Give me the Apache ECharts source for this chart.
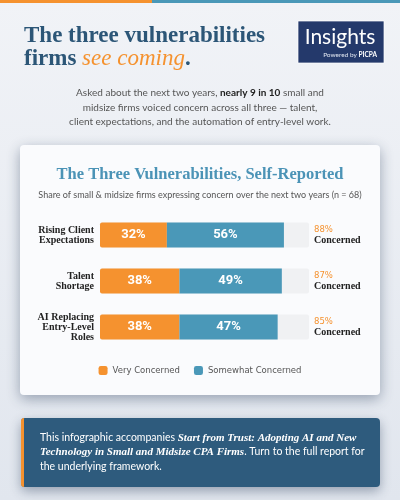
<!DOCTYPE html>
<html>
<head>
<meta charset="utf-8">
<script src="https://cdn.jsdelivr.net/npm/echarts@6/dist/echarts.min.js"></script>
<style>
  html, body { margin: 0; padding: 0; }
  #chart { width: 400px; height: 500px; }
</style>
</head>
<body>
<div id="chart"></div>
<script>
// data
const categories = ['Rising Client\nExpectations', 'Talent\nShortage', 'AI Replacing\nEntry-Level\nRoles']
const veryConcerned = [32, 38, 38]
const somewhatConcerned = [56, 49, 47]
const seriesNames = ['Very Concerned', 'Somewhat Concerned']
const totals = veryConcerned.map((v, i) => v + somewhatConcerned[i])

const ORANGE = '#f5922f'
const BLUE = '#4a98b8'
const NAVY = '#2c5677'
const SERIF = '"Liberation Serif", serif'
const SANS = 'Lato, sans-serif'
const BARFONT = 'Roboto, sans-serif'

const chart = echarts.init(document.getElementById('chart'))

const graphic = [
  // page background
  { type: 'rect', z: -10, shape: { x: 0, y: 0, width: 400, height: 500 },
    style: { fill: new echarts.graphic.LinearGradient(0, 0, 0, 1, [
      { offset: 0, color: '#f1f3f7' }, { offset: 1, color: '#e1e6ee' }]) } },
  // top strip
  { type: 'rect', shape: { x: 0, y: 0, width: 152, height: 3 }, style: { fill: ORANGE } },
  { type: 'rect', shape: { x: 152, y: 0, width: 248, height: 3 }, style: { fill: BLUE } },
  // headline
  { type: 'text', x: 24, y: 36, style: {
    text: 'The three vulnerabilities', font: `bold 23px ${SERIF}`, fill: NAVY, verticalAlign: 'middle' } },
  { type: 'text', x: 24, y: 59, style: {
    text: '{a|firms }{b|see coming}{a|.}', verticalAlign: 'middle',
    rich: {
      a: { font: `bold 23px ${SERIF}`, fill: NAVY },
      b: { font: `italic 23px ${SERIF}`, fill: ORANGE },
    } } },
  // Insights badge
  { type: 'rect', shape: { x: 298, y: 21, width: 86, height: 42 },
    style: { fill: '#24396b', stroke: 'rgba(255,255,255,0.7)', lineWidth: 1 } },
  { type: 'text', x: 340, y: 37, style: {
    text: 'Insights', font: `21px ${SANS}`, fill: '#fff', align: 'center', verticalAlign: 'middle' } },
  { type: 'text', x: 377, y: 55, style: {
    text: 'Powered by {b|PICPA}', font: `6.5px ${SANS}`, fill: '#dfe5f0', align: 'right', verticalAlign: 'middle',
    rich: { b: { font: `bold 6.5px ${SANS}`, fill: '#fff' } } } },
  // intro paragraph
  { type: 'text', x: 200, y: 93, style: {
    text: 'Asked about the next two years, {b|nearly 9 in 10} small and', font: `10px ${SANS}`, fill: '#555',
    align: 'center', verticalAlign: 'middle', rich: { b: { font: `bold 10px ${SANS}`, fill: '#222' } } } },
  { type: 'text', x: 200, y: 108, style: {
    text: 'midsize firms voiced concern across all three — talent,', font: `10px ${SANS}`, fill: '#555',
    align: 'center', verticalAlign: 'middle' } },
  { type: 'text', x: 200, y: 122, style: {
    text: 'client expectations, and the automation of entry-level work.', font: `10px ${SANS}`, fill: '#555',
    align: 'center', verticalAlign: 'middle' } },
  // card
  { type: 'rect', z: -5, shape: { x: 20, y: 145, width: 360, height: 250, r: 4 },
    style: { fill: '#fafbfd', shadowBlur: 14, shadowOffsetY: 4, shadowColor: 'rgba(30,50,80,0.4)' } },
  { type: 'text', x: 200, y: 175, style: {
    text: 'The Three Vulnerabilities, Self-Reported', font: `bold 16.5px ${SERIF}`, fill: '#4b93b6',
    align: 'center', verticalAlign: 'middle' } },
  { type: 'text', x: 200, y: 195, style: {
    text: 'Share of small & midsize firms expressing concern over the next two years (n = 68)',
    font: `9px ${SANS}`, fill: '#555', align: 'center', verticalAlign: 'middle' } },
  // footer box
  { type: 'rect', z: -5, shape: { x: 21, y: 418, width: 359, height: 69, r: 4 },
    style: { fill: '#2e5b7d', shadowBlur: 12, shadowOffsetY: 4, shadowColor: 'rgba(30,50,80,0.4)' } },
  { type: 'rect', z: -4, shape: { x: 21, y: 418, width: 3, height: 69, r: [4, 0, 0, 4] },
    style: { fill: ORANGE } },
  { type: 'text', x: 40, y: 438, style: {
    text: 'This infographic accompanies {i|Start from Trust: Adopting AI and New}',
    font: `10.5px ${SANS}`, fill: '#fff', verticalAlign: 'middle',
    rich: { i: { font: `italic bold 11px ${SERIF}`, fill: '#fff' } } } },
  { type: 'text', x: 40, y: 452, style: {
    text: '{i|Technology in Small and Midsize CPA Firms}. Turn to the full report for',
    font: `10.5px ${SANS}`, fill: '#fff', verticalAlign: 'middle',
    rich: { i: { font: `italic bold 11px ${SERIF}`, fill: '#fff' } } } },
  { type: 'text', x: 40, y: 467, style: {
    text: 'the underlying framework.', font: `10.5px ${SANS}`, fill: '#fff', verticalAlign: 'middle' } },
]

const option = {
  animation: false,
  graphic,
  legend: {
    data: seriesNames,
    left: 'center',
    top: 361,
    itemWidth: 9,
    itemHeight: 9,
    itemGap: 14,
    icon: 'roundRect',
    textStyle: { fontSize: 8.5, color: '#555', fontFamily: '"DejaVu Sans", sans-serif' },
  },
  grid: { left: 100, width: 209, top: 212, height: 138 },
  xAxis: { type: 'value', min: 0, max: 100, show: false },
  yAxis: [{
    type: 'category',
    inverse: true,
    data: categories,
    axisLine: { show: false },
    axisTick: { show: false },
    axisLabel: {
      margin: 6,
      fontFamily: SERIF,
      fontWeight: 'bold',
      fontSize: 10,
      lineHeight: 10,
      color: '#222',
    },
  }, {
    type: 'category',
    position: 'right',
    inverse: true,
    data: categories,
    axisLine: { show: false },
    axisTick: { show: false },
    axisLabel: {
      margin: 5,
      align: 'left',
      formatter: (v, i) => `{p|${totals[i]}%}\n{c|Concerned}`,
      rich: {
        p: { fontFamily: '"DejaVu Sans", sans-serif', fontSize: 8.5, color: ORANGE, lineHeight: 11 },
        c: { fontFamily: SERIF, fontWeight: 'bold', fontSize: 10, color: '#222', lineHeight: 11 },
      },
    },
  }],
  series: [{
    name: seriesNames[0],
    type: 'bar',
    stack: 'total',
    barWidth: 25,
    data: veryConcerned,
    itemStyle: { color: ORANGE, borderRadius: [2, 0, 0, 2] },
    showBackground: true,
    backgroundStyle: { color: '#f0f1f3', borderRadius: 2 },
    label: { show: true, formatter: '{c}%', color: '#fff', fontFamily: BARFONT, fontWeight: 'bold', fontSize: 13 },
  }, {
    name: seriesNames[1],
    type: 'bar',
    stack: 'total',
    barWidth: 25,
    data: somewhatConcerned,
    itemStyle: { color: BLUE },
    label: { show: true, formatter: '{c}%', color: '#fff', fontFamily: BARFONT, fontWeight: 'bold', fontSize: 13 },
  }],
}

chart.setOption(option)
</script>
</body>
</html>
